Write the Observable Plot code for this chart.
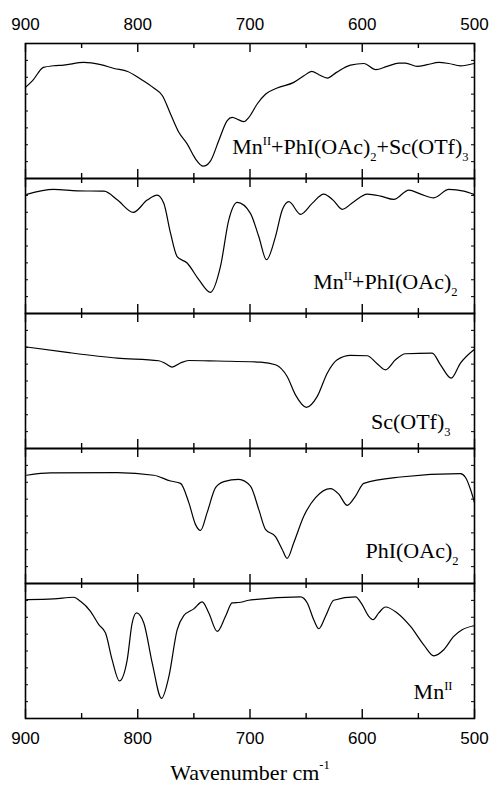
<!DOCTYPE html>
<html><head><meta charset="utf-8">
<script src="https://cdn.jsdelivr.net/npm/d3@7"></script>
<script src="https://cdn.jsdelivr.net/npm/@observablehq/plot@0.6"></script>
<style>body{margin:0;background:#fff;overflow:hidden}</style>
</head><body><div id="chart"></div>
<script>
// ---- data ----
const panels = ["A", "B", "C", "D", "E"];
const panelLabels = ["Mn^{II}+PhI(OAc)_{2}+Sc(OTf)_{3}", "Mn^{II}+PhI(OAc)_{2}", "Sc(OTf)_{3}", "PhI(OAc)_{2}", "Mn^{II}"];
const xTickLabels = [900, 800, 700, 600, 500];
const xMinorTicks = [850, 750, 650, 550];
const yMinorTicks = [12.5, 25, 37.5, 50, 62.5, 75, 87.5];
const xLabel = "Wavenumber cm^{-1}";

// MnII + PhI(OAc)2 + Sc(OTf)3
const wn1 = [900, 893.5, 884, 875, 866, 848, 833, 821, 809, 797.5, 785.7, 778, 770.8, 763.4, 756, 748.6, 741.7, 735, 727.8, 720.3, 715.9, 710, 705.5, 701, 693.6, 686, 675.8, 661, 652, 645, 638.6, 631, 623, 610.5, 598.6, 588, 578, 567.4, 561.5, 551, 542, 531.8, 523, 512.5, 500.5];
const t1  = [67.5, 72.7, 82.3, 83.5, 84.0, 86.0, 84.3, 81.5, 79.3, 73.7, 67.0, 61.3, 47.8, 34.2, 25.6, 14.6, 9.1, 13.3, 28.1, 42.9, 45.3, 43.4, 42.1, 45.3, 55.2, 62.6, 67.0, 71.2, 76.1, 79.3, 76.9, 74.4, 78.6, 84.0, 85.2, 80.6, 83.0, 85.5, 85.5, 83.0, 84.3, 86.0, 85.2, 83.5, 85.2];

// MnII + PhI(OAc)2
const wn2 = [899, 875, 854, 830, 818, 804, 791.6, 782.7, 776.8, 770.8, 764.9, 756, 745.6, 735.2, 726.3, 718.9, 711.4, 699.6, 692.2, 685.3, 677.3, 671.3, 665.4, 655, 644.6, 634.3, 626, 617.9, 607.5, 595.6, 583.7, 571.9, 558.5, 548, 536.3, 522.9, 509.5, 500.5];
const t2  = [88.2, 91.9, 90.9, 90.6, 84.0, 74.9, 84.0, 87.7, 81.6, 59.5, 42.2, 37.4, 25.1, 15.7, 34.9, 69.3, 82.3, 74.2, 57.0, 39.8, 57.0, 76.6, 82.8, 73.5, 81.6, 88.4, 84.0, 77.2, 82.8, 88.4, 87.0, 84.5, 91.4, 88.4, 85.7, 91.9, 90.6, 88.2];

// Sc(OTf)3
const wn3 = [899, 862.9, 818.3, 781.2, 775, 769.3, 762, 754.5, 729.2, 690.6, 677.3, 666.9, 659.5, 649.7, 640.2, 631.2, 622.3, 610.5, 595.6, 586.7, 579.3, 570.4, 561.5, 537.7, 530.3, 520.8, 512.5, 500.5];
const t3  = [75.2, 71.2, 67.0, 65.0, 62.8, 60.3, 63.3, 65.2, 64.8, 64.0, 62.0, 53.3, 39.7, 30.5, 38.4, 55.8, 65.7, 69.0, 68.7, 62.8, 58.3, 65.7, 70.2, 70.7, 62.0, 52.1, 63.3, 73.2];

// PhI(OAc)2
const wn4 = [899, 877.7, 818.3, 785.7, 770.8, 761.9, 754.5, 748.6, 744.1, 738.2, 730.7, 723.3, 710, 699.6, 692.2, 686.2, 677.3, 671.3, 666.9, 661, 652, 641.6, 628.3, 620.8, 613.4, 606, 598.6, 565.9, 512.5, 508, 503.6, 500];
const t4  = [80.2, 81.9, 82.2, 80.2, 75.9, 74.2, 59.9, 43.8, 39.3, 52.5, 71.0, 75.5, 77.2, 72.2, 54.9, 40.1, 34.7, 25.2, 18.6, 30.2, 50.0, 63.6, 70.3, 66.1, 57.9, 64.8, 74.2, 78.9, 81.4, 78.5, 69.8, 59.9];

// MnII
const wn5 = [899, 874.8, 857, 851, 842.1, 834.7, 828.7, 822.8, 816.3, 809.4, 805, 801.1, 794.6, 787.1, 778.8, 772.3, 764.9, 759, 750.1, 742.6, 736.7, 729.2, 721.8, 715.9, 708.5, 701, 696.6, 655, 649, 643.2, 638.7, 632.7, 625.4, 606, 600.1, 594.2, 590.3, 585.3, 579.3, 568.9, 557, 545.2, 536.3, 527.4, 518.5, 511, 500.5];
const t5  = [88.1, 88.6, 89.8, 86.8, 79.4, 69.5, 63.3, 43.4, 27.8, 43.4, 70.7, 78.2, 70.7, 41.0, 14.9, 31.0, 65.7, 76.2, 81.2, 86.4, 78.2, 64.5, 75.7, 85.6, 86.1, 87.6, 88.1, 90.1, 85.6, 73.2, 66.5, 75.7, 87.6, 90.1, 84.4, 75.7, 73.2, 78.2, 82.6, 78.2, 68.2, 54.6, 46.4, 50.9, 60.8, 65.7, 68.7];

const seriesWn = [wn1, wn2, wn3, wn4, wn5];
const seriesT = [t1, t2, t3, t4, t5];
const spectra = panels.flatMap((p, i) => seriesWn[i].map((w, j) => ({panel: p, wn: w, t: seriesT[i][j]})));
const labelRows = panels.map((p, i) => ({panel: p, label: panelLabels[i]}));

// ---- layout ----
const W = 493, H = 785, mT = 43, mB = 67, mL = 25, mR = 19;
const panelH = (H - mT - mB) / panels.length;
const plotW = W - mL - mR;
const serif = "'Liberation Serif', 'Times New Roman', Times, serif";
const sans = "'Liberation Sans', Arial, Helvetica, sans-serif";
const labelPos = [[-6, -25], [-17, -25], [-24, -20], [-16, -26], [-22, -20]];

const chart = Plot.plot({
  width: W, height: H,
  marginTop: mT, marginBottom: mB, marginLeft: mL, marginRight: mR,
  style: {fontFamily: sans, fontSize: "17px", background: "#fff", color: "#000"},
  x: {domain: [900, 500]},
  y: {domain: [0, 100], axis: null},
  fy: {domain: panels, axis: null, padding: 0},
  marks: [
    // inward ticks on top and bottom of each panel
    Plot.ruleX(xTickLabels, {x: d => d, insetBottom: panelH - 9, stroke: "#000", strokeWidth: 1.4}),
    Plot.ruleX(xMinorTicks, {x: d => d, insetBottom: panelH - 5, stroke: "#000", strokeWidth: 1.4}),
    Plot.ruleX(xTickLabels, {x: d => d, insetTop: panelH - 9, stroke: "#000", strokeWidth: 1.4}),
    Plot.ruleX(xMinorTicks, {x: d => d, insetTop: panelH - 5, stroke: "#000", strokeWidth: 1.4}),
    // small inward ticks on left and right
    Plot.ruleY(yMinorTicks, {y: d => d, insetRight: plotW - 3, stroke: "#000", strokeWidth: 1}),
    Plot.ruleY(yMinorTicks, {y: d => d, insetLeft: plotW - 3, stroke: "#000", strokeWidth: 1}),
    Plot.line(spectra, {x: "wn", y: "t", fy: "panel", curve: "monotone-x", stroke: "#000", strokeWidth: 1.2}),
    Plot.frame({stroke: "#000", strokeWidth: 1.6}),
    Plot.axisX({anchor: "top", ticks: xTickLabels, tickSize: 0, tickPadding: 14, label: null, fontSize: 17, fill: "#000"}),
    Plot.axisX({anchor: "bottom", ticks: xTickLabels, tickSize: 0, tickPadding: 13, label: null, fontSize: 17, fill: "#000"}),
    ...labelRows.map((r, i) => Plot.text([r], {
      fy: "panel", text: "label", frameAnchor: "bottom-right", textAnchor: "end", lineAnchor: "bottom",
      dx: labelPos[i][0], dy: labelPos[i][1], fontSize: 22, fill: "#000"
    })),
    Plot.text([{panel: panels[panels.length - 1], label: xLabel}], {
      fy: "panel", text: "label", frameAnchor: "bottom", lineAnchor: "bottom", dy: 61,
      fontSize: 22, fill: "#000"
    })
  ]
});
document.getElementById("chart").appendChild(chart);

// rich text: ^{sup} and _{sub}, serif font for labels
function richText(el) {
  const s = el.textContent;
  if (!/[\^_]\{/.test(s)) return;
  el.style.fontFamily = serif;
  const fs = parseFloat(getComputedStyle(el).fontSize) || 20;
  const isAxis = s.indexOf("Wavenumber") >= 0;
  const supShift = isAxis ? 0.5 * fs : 0.38 * fs;
  const subShift = 0.33 * fs;
  el.textContent = "";
  const re = /([\^_])\{([^}]*)\}|([^\^_]+)/g;
  let m, cur = 0;
  while ((m = re.exec(s))) {
    const t = d3.select(el).append("tspan");
    if (m[3] !== undefined) {
      t.text(m[3]);
      if (cur !== 0) t.attr("dy", (-cur) + "px");
      cur = 0;
    } else {
      const target = m[1] === "^" ? -supShift : subShift;
      t.text(m[2]).attr("font-size", (0.57 * fs) + "px").attr("dy", (target - cur) + "px");
      cur = target;
    }
  }
}
d3.select(chart).selectAll("text").each(function() { richText(this); });
</script>
</body></html>
